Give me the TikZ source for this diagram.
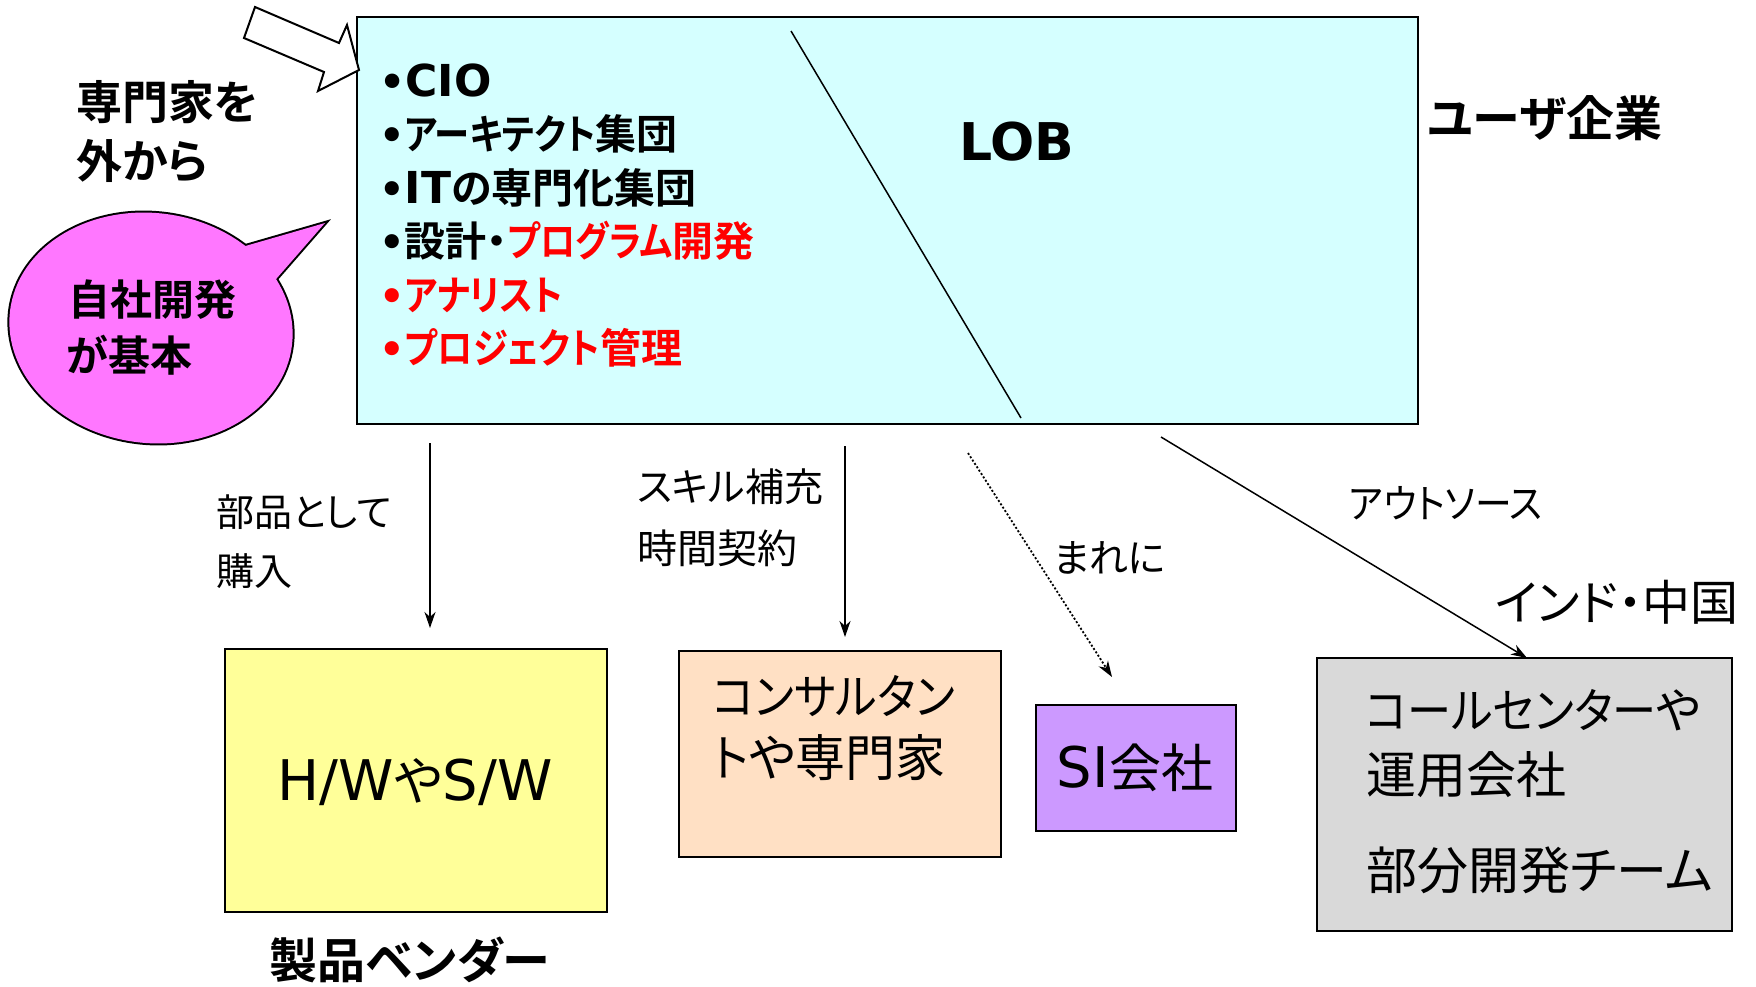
\documentclass[tikz,border=0pt]{standalone}
\usepackage{fontspec}
\setmainfont{Noto Sans CJK JP}[BoldFont={Noto Sans CJK JP Bold},RawFeature=+palt]
\newfontfamily\kn{Noto Sans CJK JP}[BoldFont={Noto Sans CJK JP Bold},RawFeature=+palt,FakeStretch=0.92]
\newfontfamily\knb{Noto Sans CJK JP}[BoldFont={Noto Sans CJK JP Bold},RawFeature=+palt,FakeStretch=0.86]
\newfontfamily\dv{DejaVu Sans}
\usetikzlibrary{arrows.meta}
\definecolor{cyanbg}{RGB}{213,255,255}
\definecolor{yelbg}{RGB}{255,255,153}
\definecolor{peachbg}{RGB}{255,224,196}
\definecolor{purpbg}{RGB}{204,153,255}
\definecolor{graybg}{RGB}{217,217,217}
\definecolor{pinkbg}{RGB}{255,119,255}
\newcommand\myfs[1]{\fontsize{#1}{#1}\selectfont}
\begin{document}
\begin{tikzpicture}[x=1pt,y=-1pt,
  boxstyle/.style={draw=black,line width=2pt,inner sep=0pt,anchor=north west},
  txt/.style={inner sep=0pt,anchor=west},
  ctxt/.style={inner sep=0pt,anchor=center},
  bul/.style={txt,font=\bfseries\myfs{41}},
  arr/.style={-{Stealth[length=16pt,width=11pt,inset=5pt]},line width=1.5pt}]
\useasboundingbox (0,0) rectangle (1756,986);

% main user-company box
\node[boxstyle,fill=cyanbg,minimum width=1061pt,minimum height=407pt] (main) at (356,16) {};
\coordinate (d1) at (791,31);
\coordinate (d2) at (1021,418);
\draw[line width=1.5pt] (d1) -- (d2);

% hollow block arrow
\draw[line width=2pt,fill=white,line join=miter]
  (255,7) -- (339,43) -- (347,25) -- (359,70) -- (318,91) -- (324,72) -- (244,38) -- cycle;

% bullet list
\node[bul] (b1) at (379,80) {{\dv\bfseries\myfs{41}•}{\dv\bfseries\myfs{44}CIO}};
\node[bul] (b2) at (379,134) {{\dv\bfseries\myfs{40}•}{\knb アーキテクト}集団};
\node[bul] (b3) at (379,188) {{\dv\bfseries\myfs{40}•}{\dv\bfseries\myfs{44}IT}の専門化集団};
\node[bul] (b4) at (379,241) {{\dv\bfseries\myfs{40}•}設計・\textcolor{red}{{\knb プログラム}開発}};
\node[bul,text=red] (b5) at (379,295) {{\dv\bfseries\myfs{40}•}{\knb アナリスト}};
\node[bul,text=red] (b6) at (379,348) {{\dv\bfseries\myfs{40}•}{\knb プロジェクト}管理};

\node[ctxt,font=\dv\bfseries\myfs{52}] (lob) at (1017,142) {LOB};
\node[txt,font=\bfseries\myfs{48}] (user) at (1427,118) {ユーザ企業};

\node[txt,font=\bfseries\myfs{46}] (ext1) at (76,102) {専門家を};
\node[txt,font=\bfseries\myfs{46}] (ext2) at (76,161) {外から};

% speech bubble
\draw[line width=4pt,rotate around={-7:(151,328)}] (151,328) ellipse [x radius=142pt,y radius=115pt];
\draw[line width=4pt] (190,262) -- (325,223) -- (242.5,317.5) -- cycle;
\fill[pinkbg,rotate around={-7:(151,328)}] (151,328) ellipse [x radius=142pt,y radius=115pt];
\fill[pinkbg] (190,262) -- (325,223) -- (242.5,317.5) -- cycle;
\node[txt,font=\bfseries\myfs{42}] (bub1) at (68,300) {自社開発};
\node[txt,font=\bfseries\myfs{42}] (bub2) at (66,355) {が基本};

% lower boxes
\node[boxstyle,fill=yelbg,minimum width=382pt,minimum height=263pt] (hw) at (224,648) {};
\node[ctxt] (hwt) at (415,782) {{\dv\myfs{56}H/W}{\myfs{52}や}{\dv\myfs{56}S/W}};
\node[ctxt,font=\bfseries\myfs{48}] (vendor) at (410,960) {製品ベンダー};

\node[boxstyle,fill=peachbg,minimum width=322pt,minimum height=206pt] (cons) at (678,650) {};
\node[txt,font=\myfs{48}] (cons1) at (713,696) {{\kn コンサルタン}};
\node[txt,font=\myfs{50}] (cons2) at (713,758) {{\kn ト}や専門家};

\node[boxstyle,fill=purpbg,minimum width=200pt,minimum height=126pt] (si) at (1035,704) {};
\node[ctxt] (sit) at (1135,768) {{\dv\myfs{56}SI}{\myfs{52}会社}};

\node[boxstyle,fill=graybg,minimum width=415pt,minimum height=273pt] (out) at (1316,657) {};
\node[txt,font=\myfs{48}] (out1) at (1366,710) {{\kn コールセンター}や};
\node[txt,font=\myfs{50}] (out2) at (1366,775) {運用会社};
\node[txt,font=\myfs{51}] (out3) at (1366,870) {部分開発チーム};

% connectors
\coordinate (a1s) at (430,443); \coordinate (a1e) at (430,628);
\coordinate (a2s) at (845,446); \coordinate (a2e) at (845,637);
\coordinate (a3s) at (968,453); \coordinate (a3e) at (1112,677);
\coordinate (a4s) at (1161,437); \coordinate (a4e) at (1527,658);
\draw[arr] (a1s) -- (a1e);
\draw[arr] (a2s) -- (a2e);
\draw[arr,line width=1.8pt,dash pattern=on 2pt off 2pt] (a3s) -- (a3e);
\draw[arr] (a4s) -- (a4e);

% connector labels
\node[txt,font=\myfs{38}] (l1a) at (216,512) {部品として};
\node[txt,font=\myfs{38}] (l1b) at (216,571) {購入};
\node[txt,font=\myfs{39}] (l2a) at (637,487) {スキル補充};
\node[txt,font=\myfs{40}] (l2b) at (637,548) {時間契約};
\node[txt,font=\myfs{39}] (l3) at (1053,558) {まれに};
\node[txt,font=\myfs{40}] (l4) at (1349,503) {{\kn アウトソース}};
\node[txt,font=\myfs{48}] (l5) at (1495,602) {インド・中国};
\end{tikzpicture}
\end{document}
